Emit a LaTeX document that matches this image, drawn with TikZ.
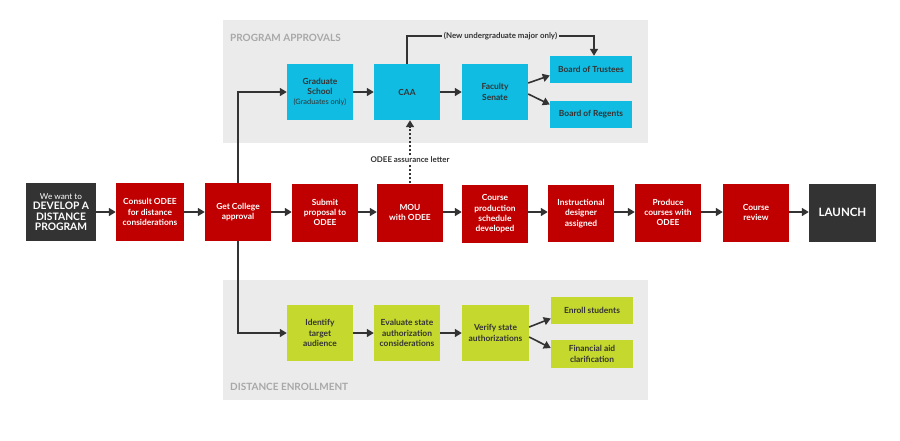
\documentclass[tikz,border=0pt]{standalone}
\usepackage{fontspec}
\setmainfont{Lato}
\usetikzlibrary{arrows.meta}

\definecolor{odeered}{HTML}{C00000}
\definecolor{launchgray}{HTML}{333333}
\definecolor{inkgray}{HTML}{333333}
\definecolor{caablue}{HTML}{10BCE2}
\definecolor{limegreen}{HTML}{C5D82E}
\definecolor{panelgray}{HTML}{EBEBEB}
\definecolor{titlegray}{HTML}{A8A8A8}

\begin{document}
\begin{tikzpicture}[
    x=1pt,
    y=-1pt,
    every node/.style={font=\bfseries\fontsize{8.4}{10.3}\selectfont, align=center, inner sep=1pt},
    box/.style={minimum width=66pt, minimum height=58pt},
    redbox/.style={box, fill=odeered, text=white},
    darkbox/.style={box, fill=launchgray, text=white},
    bluebox/.style={box, minimum height=56pt, fill=caablue, text=inkgray},
    limebox/.style={box, minimum height=56pt, fill=limegreen, text=inkgray},
    boardbox/.style={minimum width=82pt, minimum height=27pt},
    paneltitle/.style={anchor=west, text=titlegray, font=\bfseries\fontsize{10}{12}\selectfont},
    arr/.style={draw=inkgray, line width=1.6pt, -{Triangle[length=7pt, width=8pt]}},
    dotarr/.style={arr, dash pattern=on 2pt off 2pt},
    note/.style={text=inkgray, font=\bfseries\fontsize{7.9}{9.4}\selectfont}
  ]
    \useasboundingbox (0,0) rectangle (900,440);

    % grey panels
    \fill[panelgray] (223,20) rectangle (648,143);
    \fill[panelgray] (223,280) rectangle (648,400);
    \node[paneltitle] (approvals) at (229,38) {PROGRAM APPROVALS};
    \node[paneltitle] (enrollment) at (229,387) {DISTANCE ENROLLMENT};

    % main row
    \node[darkbox, minimum width=70pt, font=\bfseries\fontsize{10.3}{10.6}\selectfont] (develop) at (61,212)
      {{\mdseries\fontsize{8.2}{9.6}\selectfont We want to}\\DEVELOP A\\DISTANCE\\PROGRAM};
    \node[redbox, minimum width=68pt] (consult) at (150,212) {Consult ODEE\\for distance\\considerations};
    \node[redbox] (college) at (238,212) {Get College\\approval};
    \node[redbox] (submit) at (325,212.5) {Submit\\proposal to\\ODEE};
    \node[redbox] (mou) at (410,212.5) {MOU\\with ODEE};
    \node[redbox] (schedule) at (495,214) {Course\\production\\schedule\\developed};
    \node[redbox, minimum height=57pt] (designer) at (581,213.5) {Instructional\\designer\\assigned};
    \node[redbox] (produce) at (668,212.5) {Produce\\courses with\\ODEE};
    \node[redbox] (review) at (756,212.5) {Course\\review};
    \node[darkbox, minimum width=67pt, font=\bfseries\fontsize{11.5}{13}\selectfont] (launch) at (842.5,212.5) {LAUNCH};

    \foreach \a/\b in {develop/consult, consult/college, college/submit, submit/mou,
                       mou/schedule, schedule/designer, designer/produce, produce/review, review/launch} {
      \draw[arr] (\a.east |- 0,212) -- (\b.west |- 0,212);
    }

    % program approvals
    \node[bluebox] (grad) at (320,92) {Graduate\\School\\{\mdseries\fontsize{7.4}{8.8}\selectfont (Graduates only)}};
    \node[bluebox] (caa) at (407,92) {CAA};
    \node[bluebox] (senate) at (495,92) {Faculty\\Senate};
    \node[bluebox, boardbox] (trustees) at (591,69.5) {Board of Trustees};
    \node[bluebox, boardbox] (regents) at (591,114.5) {Board of Regents};

    \draw[arr] (college.north) |- (grad.west);
    \draw[arr] (grad) -- (caa);
    \draw[arr] (caa) -- (senate);
    \draw[arr] ([yshift=9pt]senate.east) -- ([yshift=-6pt]trustees.west);
    \draw[arr] ([yshift=-2pt]senate.east) -- ([yshift=10pt]regents.west);
    \draw[arr] (caa.north) -- ++(0,-28) -| ([xshift=3pt]trustees.north)
      node[note, pos=0.25, fill=panelgray, inner xsep=2pt] (major) {(New undergraduate major only)};
    \draw[dotarr] (mou.north) -- (mou.north |- caa.south)
      node[note, pos=0.37, fill=white, inner ysep=2pt] (letter) {ODEE assurance letter};

    % distance enrollment
    \node[limebox] (identify) at (320,333) {Identify\\target\\audience};
    \node[limebox] (evaluate) at (407,333) {Evaluate state\\authorization\\considerations};
    \node[limebox, minimum width=67pt] (verify) at (495.5,333) {Verify state\\authorizations};
    \node[limebox, boardbox] (enroll) at (592,310.5) {Enroll students};
    \node[limebox, boardbox, minimum height=28pt] (finaid) at (592,354) {Financial aid\\clarification};

    \draw[arr] (college.south) |- (identify.west);
    \draw[arr] (identify) -- (evaluate);
    \draw[arr] (evaluate) -- (verify);
    \draw[arr] ([yshift=6pt]verify.east) -- ([yshift=-8pt]enroll.west);
    \draw[arr] ([yshift=-4pt]verify.east) -- ([yshift=6pt]finaid.west);
  \end{tikzpicture}
\end{document}
